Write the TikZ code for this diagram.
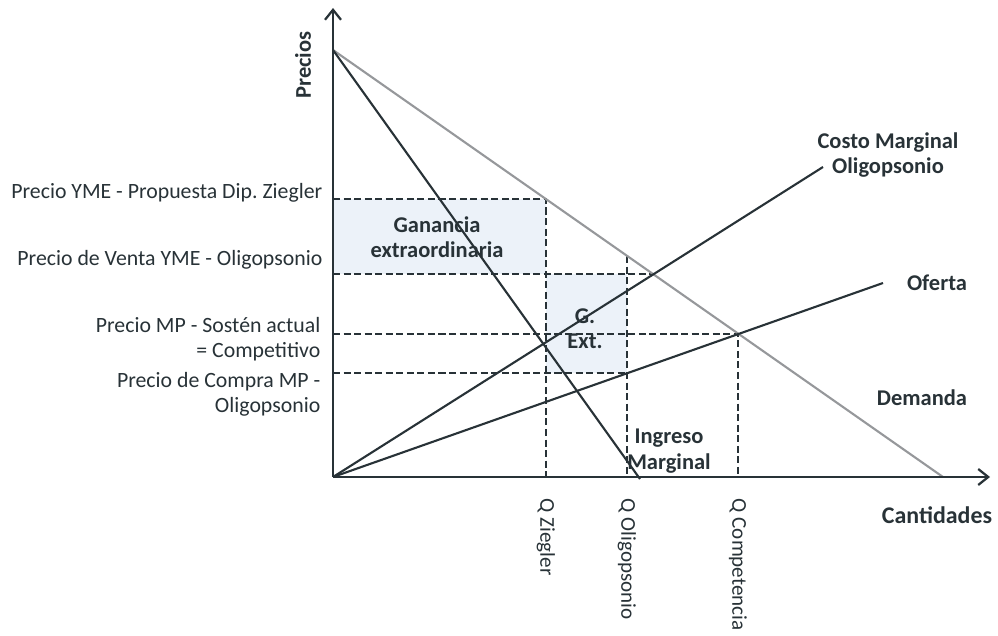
\documentclass[tikz,border=0pt]{standalone}
\usepackage{fontspec}
\setmainfont{Carlito}
\frenchspacing
\usetikzlibrary{positioning,arrows.meta}
\definecolor{inkdark}{RGB}{40,50,55}
\definecolor{demgray}{RGB}{150,152,155}
\definecolor{gainfill}{RGB}{236,242,249}
\begin{document}
\begin{tikzpicture}[x=0.025cm,y=-0.025cm]
  \tikzstyle{every node}=[font=\fontsize{15.5}{18}\selectfont,inner sep=1pt,text=inkdark]
  \tikzstyle{axis}=[draw=inkdark,line width=1.6pt,-{Straight Barb[length=2.5mm,width=4mm]}]
  \tikzstyle{curve}=[draw=inkdark,line width=1.5pt]
  \tikzstyle{guide}=[draw=inkdark,line width=1.3pt,dash pattern=on 5pt off 2.5pt]
  \tikzstyle{tag}=[font=\fontsize{16}{18}\selectfont\bfseries,align=center]
  \tikzstyle{pricetag}=[anchor=east,align=right]
  \tikzstyle{qtag}=[rotate=-90,anchor=west,font=\fontsize{15}{18}\selectfont]
  \useasboundingbox (0,0) rectangle (998,636);
  \coordinate (O) at (333,477);
  \coordinate (ytop) at (333,8);
  \coordinate (xend) at (990,477);
  \coordinate (A) at (333,50);
  \coordinate (D) at (943,477);
  \coordinate (IM) at (640,479);
  \coordinate (CM) at (823,167);
  \coordinate (S) at (883,283);
  \coordinate (Pz) at (333,199);
  \coordinate (Ez) at (546,199);
  \coordinate (Qz) at (546,477);
  \coordinate (Po) at (333,274);
  \coordinate (Eo) at (653,274);
  \coordinate (Qotop) at (627,256);
  \coordinate (Qo) at (627,477);
  \coordinate (Pc) at (333,334);
  \coordinate (Ec) at (738,334);
  \coordinate (Qc) at (738,477);
  \coordinate (Pm) at (333,373);
  \coordinate (Em) at (627,373);
  \fill[gainfill] (Pz) rectangle (Eo -| Ez);
  \fill[gainfill] (Eo -| Ez) rectangle (Em);
  \draw[guide] (Pz) -- (Ez) -- (Qz);
  \draw[guide] (Po) -- (Eo);
  \draw[guide] (Qotop) -- (Qo);
  \draw[guide] (Pc) -- (Ec) -- (Qc);
  \draw[guide] (Pm) -- (Em);
  \draw[curve,draw=demgray] (A) -- (D);
  \draw[curve] (A) -- (IM);
  \draw[curve] (O) -- (CM);
  \draw[curve] (O) -- (S);
  \draw[axis] (O) -- (ytop);
  \draw[axis] (O) -- (xend);
  \node[tag,rotate=90] (precios) at (303,65) {Precios};
  \node[tag,font=\fontsize{17}{18}\selectfont\bfseries] (cantidades) at (937,515) {Cantidades};
  \node[tag] (cmlabel) at (888,155) {Costo Marginal\\Oligopsonio};
  \node[tag] (oferta) at (937,283) {Oferta};
  \node[tag] (demanda) at (922,398) {Demanda};
  \node[tag] (ganancia) at (437,237) {Ganancia\\extraordinaria};
  \node[tag] (gext) at (585,329) {G.\\Ext.};
  \node[tag] (imlabel) at (669,451) {Ingreso\\Marginal};
  \node[pricetag] (pz) at (324,193) {Precio YME - Propuesta Dip. Ziegler};
  \node[pricetag] (po) at (324,260) {Precio de Venta YME - Oligopsonio};
  \node[pricetag] (pc) at (322,339) {Precio MP - Sostén actual\\= Competitivo};
  \node[pricetag] (pm) at (322,394) {Precio de Compra MP -\\Oligopsonio};
  \node[qtag] (qz) at (546,497) {Q Ziegler};
  \node[qtag] (qo) at (627,497) {Q Oligopsonio};
  \node[qtag] (qc) at (738,497) {Q Competencia};
\end{tikzpicture}
\end{document}
